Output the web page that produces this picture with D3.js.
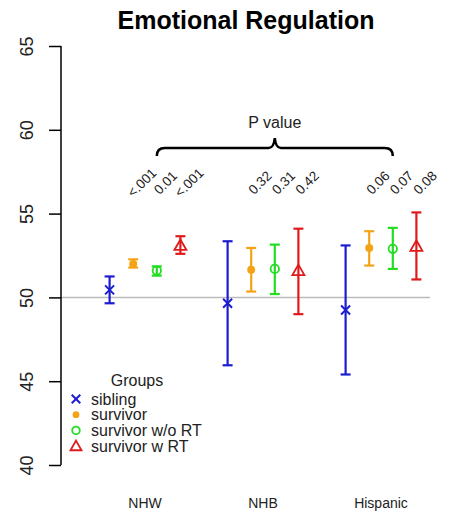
<!DOCTYPE html>
<html>
<head>
<meta charset="utf-8">
<script src="https://cdn.jsdelivr.net/npm/d3@7"></script>
<style>
  body { margin: 0; background: #fff; }
  text { font-family: "Liberation Sans", Arial, sans-serif; }
</style>
</head>
<body>
<div id="chart"></div>
<script>
// ethnic groups and the four comparison groups
var ethnicities = ['NHW', 'NHB', 'Hispanic'];
var groups = ['sibling', 'survivor', 'survivor w/o RT', 'survivor w RT'];
var groupColors = ['#1c1cd0', '#f5a316', '#22dd22', '#e01a1a'];
var groupShapes = ['cross', 'dot', 'circle', 'triangle'];

// means and 95% CI, rows = ethnicity, cols = group
var means = [
  [50.45, 52.0, 51.6, 53.1],
  [49.65, 51.65, 51.7, 51.6],
  [49.25, 52.95, 52.9, 53.05]
];
var lower = [
  [49.65, 51.78, 51.3, 52.6],
  [45.95, 50.35, 50.2, 49.0],
  [45.4, 51.9, 51.7, 51.07]
];
var upper = [
  [51.25, 52.27, 51.85, 53.65],
  [53.35, 52.95, 53.15, 54.1],
  [53.1, 53.95, 54.15, 55.07]
];
// p values shown above survivor groups
var pvals = [
  ['<.001', '0.01', '<.001'],
  ['0.32', '0.31', '0.42'],
  ['0.06', '0.07', '0.08']
];
var yTicks = [40, 45, 50, 55, 60, 65];

var W = 449, H = 517;
var svg = d3.select('#chart').append('svg')
  .attr('width', W)
  .attr('height', H);

var x = d3.scaleLinear().domain([0, 2]).range([145, 381]);
var y = d3.scaleLinear().domain([40, 65]).range([465, 46]);
var step = 0.2;

function xpos(e, g) { return x(e + (g - 1.5) * step); }

// title
svg.append('text')
  .attr('x', 246).attr('y', 29)
  .attr('text-anchor', 'middle')
  .style('font-size', '25px').style('font-weight', 'bold')
  .text('Emotional Regulation');

// reference line at 50
svg.append('line')
  .attr('x1', 61).attr('x2', 430)
  .attr('y1', y(50)).attr('y2', y(50))
  .attr('stroke', '#bbbbbb').attr('stroke-width', 1.5);

// y axis
var yAxis = d3.axisLeft(y).tickValues(yTicks).tickSize(12).tickFormat(d3.format('d'));
var ag = svg.append('g').attr('transform', 'translate(61,0)').call(yAxis);
ag.select('.domain').attr('stroke', '#000').attr('stroke-width', 1.5)
  .attr('d', 'M0,' + y(65) + 'V' + y(40));
ag.selectAll('.tick line').attr('stroke', '#000').attr('stroke-width', 1.5);
ag.selectAll('.tick text')
  .attr('x', 0).attr('y', 0).attr('dy', null)
  .attr('transform', 'translate(-28,0) rotate(-90)')
  .attr('text-anchor', 'middle')
  .style('font-size', '18px').style('font-family', '"Liberation Sans", Arial, sans-serif')
  .attr('fill', '#222');

// category labels
svg.selectAll('.cat').data(ethnicities).enter().append('text')
  .attr('x', function(d, i) { return x(i); })
  .attr('y', 508)
  .attr('text-anchor', 'middle')
  .style('font-size', '14px').attr('fill', '#222')
  .text(function(d) { return d; });

function drawSymbol(sel, shape, color, cx, cy, k) {
  k = k || 1;
  if (shape === 'cross') {
    var s = 4.5 * k;
    sel.append('path')
      .attr('d', 'M' + (cx - s) + ',' + (cy - s) + 'L' + (cx + s) + ',' + (cy + s) +
        'M' + (cx - s) + ',' + (cy + s) + 'L' + (cx + s) + ',' + (cy - s))
      .attr('stroke', color).attr('stroke-width', 2).attr('fill', 'none');
  } else if (shape === 'dot') {
    sel.append('circle').attr('cx', cx).attr('cy', cy).attr('r', 4 * k)
      .attr('fill', color);
  } else if (shape === 'circle') {
    sel.append('circle').attr('cx', cx).attr('cy', cy).attr('r', 4.2 * k)
      .attr('fill', 'none').attr('stroke', color).attr('stroke-width', 1.8);
  } else {
    var r = 6 * k;
    sel.append('path')
      .attr('d', 'M' + cx + ',' + (cy - r) + 'L' + (cx + r) + ',' + (cy + r * 0.75) +
        'L' + (cx - r) + ',' + (cy + r * 0.75) + 'Z')
      .attr('fill', 'none').attr('stroke', color).attr('stroke-width', 1.8);
  }
}

// error bars + points
var pts = svg.append('g');
ethnicities.forEach(function(e, ei) {
  groups.forEach(function(g, gi) {
    var cx = xpos(ei, gi), col = groupColors[gi];
    var gg = pts.append('g');
    gg.append('line').attr('x1', cx).attr('x2', cx)
      .attr('y1', y(lower[ei][gi])).attr('y2', y(upper[ei][gi]))
      .attr('stroke', col).attr('stroke-width', 2.2);
    [lower[ei][gi], upper[ei][gi]].forEach(function(v) {
      gg.append('line').attr('x1', cx - 5).attr('x2', cx + 5)
        .attr('y1', y(v)).attr('y2', y(v))
        .attr('stroke', col).attr('stroke-width', 2.2);
    });
    drawSymbol(gg, groupShapes[gi], col, cx, y(means[ei][gi]));
  });
});

// p value labels, rotated 45 degrees, centred
ethnicities.forEach(function(e, ei) {
  pvals[ei].forEach(function(p, pi) {
    var px = xpos(ei, pi + 1) + 12, py = 186;
    svg.append('text')
      .attr('transform', 'translate(' + px + ',' + py + ') rotate(-45)')
      .attr('text-anchor', 'middle')
      .style('font-size', '13.5px').attr('fill', '#222')
      .text(p);
  });
});

// curly bracket
var bx0 = xpos(0, 2), bx1 = xpos(2, 2), bm = (bx0 + bx1) / 2;
var by = 148;
svg.append('path')
  .attr('d', 'M' + bx0 + ',' + (by + 8) + 'Q' + bx0 + ',' + by + ' ' + (bx0 + 8) + ',' + by +
    'L' + (bm - 6) + ',' + by + 'Q' + (bm - 1) + ',' + by + ' ' + bm + ',' + (by - 10) +
    'Q' + (bm + 1) + ',' + by + ' ' + (bm + 6) + ',' + by +
    'L' + (bx1 - 8) + ',' + by + 'Q' + bx1 + ',' + by + ' ' + bx1 + ',' + (by + 8))
  .attr('fill', 'none').attr('stroke', '#000').attr('stroke-width', 2.5);
svg.append('text')
  .attr('x', bm).attr('y', 128)
  .attr('text-anchor', 'middle')
  .style('font-size', '16px').attr('fill', '#222')
  .text('P value');

// legend
var lg = svg.append('g');
lg.append('text').attr('x', 137).attr('y', 386)
  .attr('text-anchor', 'middle')
  .style('font-size', '16px').attr('fill', '#222')
  .text('Groups');
groups.forEach(function(g, gi) {
  var ly = 399 + gi * 15.7;
  var shape = groupShapes[gi];
  if (shape === 'triangle') {
    var r = 5.5;
    lg.append('path')
      .attr('d', 'M76,' + (ly - r) + 'L' + (76 + r) + ',' + (ly + r * 0.75) + 'L' + (76 - r) + ',' + (ly + r * 0.75) + 'Z')
      .attr('fill', 'none').attr('stroke', groupColors[gi]).attr('stroke-width', 1.8);
  } else if (shape === 'dot') {
    lg.append('circle').attr('cx', 76).attr('cy', ly).attr('r', 3.4).attr('fill', groupColors[gi]);
  } else if (shape === 'circle') {
    lg.append('circle').attr('cx', 76).attr('cy', ly).attr('r', 3.8)
      .attr('fill', 'none').attr('stroke', groupColors[gi]).attr('stroke-width', 1.8);
  } else {
    drawSymbol(lg, shape, groupColors[gi], 76, ly, 0.95);
  }
  lg.append('text').attr('x', 91).attr('y', ly + 5.5)
    .style('font-size', '16px').attr('fill', '#222')
    .text(g);
});
</script>
</body>
</html>
